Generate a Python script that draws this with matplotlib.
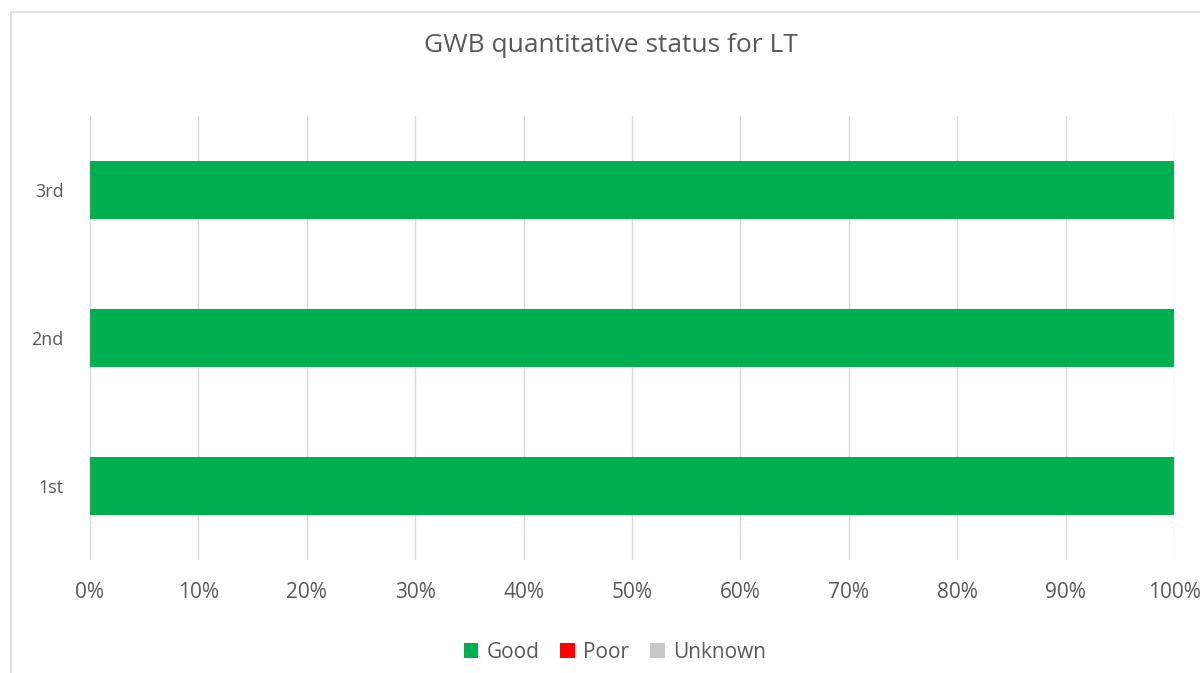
import matplotlib.pyplot as plt
from matplotlib.patches import Rectangle
from matplotlib.ticker import PercentFormatter

plt.rcParams['font.family'] = ['Open Sans', 'DejaVu Sans']

categories = ['1st', '2nd', '3rd']
series = ['Good', 'Poor', 'Unknown']
good = [100, 100, 100]
poor = [0, 0, 0]
unknown = [0, 0, 0]
colors = ['#00B050', '#FF0000', '#C8C8C8']

txt = '#595959'

fig = plt.figure(figsize=(12, 6.73), dpi=100)
ax = fig.add_axes([90 / 1200, 1 - 560 / 673, (1174 - 90) / 1200, (560 - 116) / 673])

# rahmen oko cijele slike (desno i dolje odrezan kao u originalu)
fig.patches.append(Rectangle((11 / 1200, -0.05), 1.1, 1 - 12 / 673 + 0.05,
                             transform=fig.transFigure, fill=False,
                             edgecolor='#D9D9D9', linewidth=1.2, zorder=0))

y = list(range(len(categories)))
left = [0, 0, 0]
for name, vals, c in zip(series, [good, poor, unknown], colors):
    ax.barh(y, vals, left=left, height=0.39, color=c, label=name, zorder=3)
    left = [a + b for a, b in zip(left, vals)]

ax.set_xlim(0, 100)
ax.set_ylim(-0.5, 2.5)
ax.set_xticks(range(0, 101, 10))
ax.xaxis.set_major_formatter(PercentFormatter(decimals=0))
ax.set_yticks(y)
ax.set_yticklabels(categories)
ax.grid(axis='x', color='#D9D9D9', linewidth=1, zorder=0)
for s in ax.spines.values():
    s.set_visible(False)
ax.tick_params(axis='both', length=0, colors=txt)
ax.tick_params(axis='x', labelsize=15, pad=16)
ax.tick_params(axis='y', labelsize=13, pad=19)

fig.text(611 / 1200, 1 - 45 / 673, 'GWB quantitative status for LT', ha='center', va='center',
         fontsize=19, color=txt)

leg = fig.legend(loc='center', bbox_to_anchor=(615 / 1200, 1 - 652 / 673), ncol=3, frameon=False,
                 fontsize=15, handlelength=0.7, handleheight=0.7, handletextpad=0.4,
                 columnspacing=1.0, labelcolor=txt)

fig.savefig('out.png', dpi=100)
